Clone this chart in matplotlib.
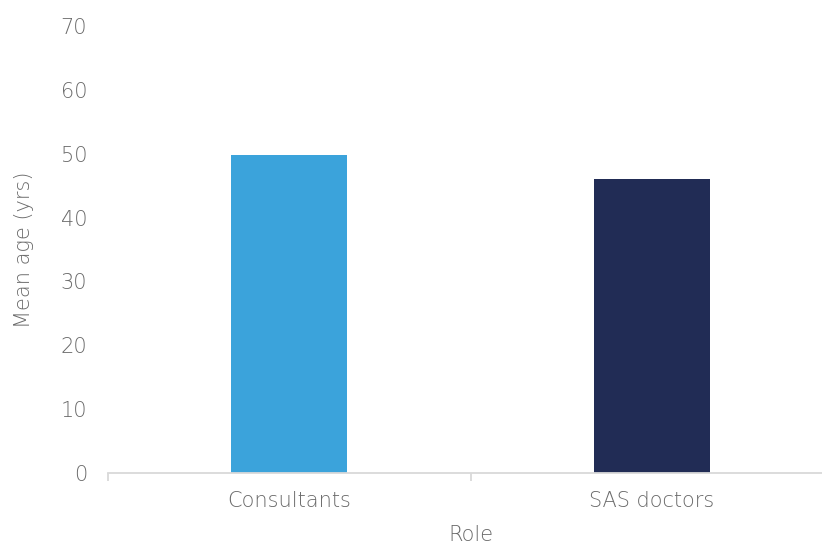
import numpy as np
import matplotlib.pyplot as plt

roles = ["Consultants", "SAS doctors"]
mean_age = [49.8, 46.0]
bar_colors = ["#3BA3DB", "#212C55"]
y_ticks = [0, 10, 20, 30, 40, 50, 60, 70]

plt.rcParams['font.family'] = ['DejaVu Sans']
plt.rcParams['font.weight'] = 200
plt.rcParams['axes.labelweight'] = 200
text_grey = "#6A6A6A"
font_size = 15

fig = plt.figure(figsize=(8.22, 5.47), dpi=100)
ax = fig.add_axes([108 / 822, 1 - 473 / 547, 725 / 822, 447 / 547])

x = np.arange(len(roles))
ax.bar(x, mean_age, width=0.32, color=bar_colors)

ax.set_xlim(-0.5, len(roles) - 0.5)
ax.set_ylim(0, 70)
ax.set_yticks(y_ticks)
ax.set_xticks(x)
ax.set_xticklabels(roles)
ax.set_xticks(np.arange(len(roles) + 1) - 0.5, minor=True)

for side in ["top", "right", "left"]:
    ax.spines[side].set_visible(False)
ax.spines["bottom"].set_color("#D9D9D9")
ax.spines["bottom"].set_linewidth(1.3)

ax.tick_params(axis="x", which="major", length=0, pad=13, labelsize=font_size, labelcolor=text_grey)
ax.tick_params(axis="x", which="minor", length=6, width=1.3, color="#D9D9D9", direction="out")
ax.tick_params(axis="y", length=0, pad=15, labelsize=font_size, labelcolor=text_grey)

ax.set_xlabel("Role", fontsize=font_size, color=text_grey, labelpad=10)
ax.set_ylabel("Mean age (yrs)", fontsize=font_size, color=text_grey, labelpad=19)

fig.savefig("out.png", dpi=100)
